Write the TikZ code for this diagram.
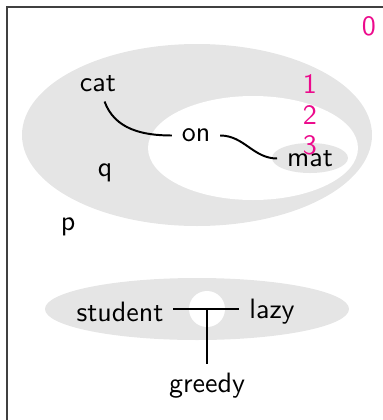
\documentclass[tikz,border=0pt]{standalone}
\definecolor{layerpink}{RGB}{236,10,140}
\begin{document}
\begin{tikzpicture}[
  x=0.357pt, y=-0.357pt,
  word/.style={font=\sffamily},
  layer/.style={font=\sffamily, text=layerpink, inner sep=1pt},
  region/.style={fill=gray!20, draw=none},
  hole/.style={fill=white, draw=none},
  link/.style={line width=0.7pt},
  frame/.style={line width=0.7pt, draw=black!75}
]
\useasboundingbox (0,0) rectangle (383,420);
% frame, cut off at the right and bottom
\draw[frame] (7,420) -- (7,7) -- (383,7);

% nested regions
\fill[region] (197,135) ellipse [x radius=175, y radius=91];
\fill[hole] (253,148) ellipse [x radius=105, y radius=52];
\fill[region] (310,158) ellipse [x radius=38, y radius=15];
\fill[region] (197,309) ellipse [x radius=152, y radius=31];
\fill[hole] (207,309) circle [radius=18];

% layer numbers
\node[layer] (l0) at (369,26.5) {0};
\node[layer] (l1) at (310,83.5) {1};
\node[layer] (l2) at (310,114.5) {2};
\node[layer] (l3) at (310,145) {3};

% words
\node[word] (cat) at (98,83.5) {cat};
\node[word] (on) at (196,135.5) {on};
\node[word] (mat) at (310,158.5) {mat};
\node[word] (q) at (105,172.5) {q};
\node[word] (p) at (68,227) {p};
\node[word] (student) at (120,312) {student};
\node[word] (lazy) at (272,311.5) {lazy};
\node[word] (greedy) at (207,386) {greedy};
\coordinate (joint) at (207,309);

% links
\draw[link] (cat) to[out=-70, in=180] (on);
\draw[link] (on) to[out=0, in=180] (mat);
\draw[link] (student.east |- joint) -- (lazy.west |- joint);
\draw[link] (joint) -- (greedy);
\end{tikzpicture}
\end{document}
